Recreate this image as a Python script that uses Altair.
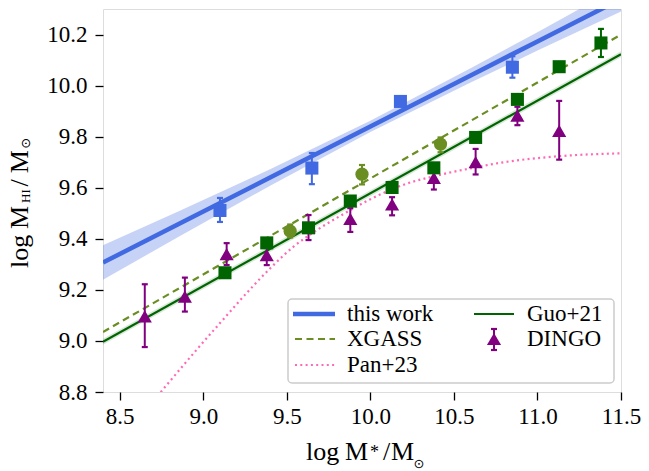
import altair as alt
import pandas as pd

# ---------------- data ----------------
# this work: binned points with error bars
tw_x = [9.10, 9.65, 10.18, 10.85]
tw_y = [9.511, 9.677, 9.938, 10.072]
tw_lo = [9.466, 9.614, 9.922, 10.031]
tw_hi = [9.560, 9.736, 9.956, 10.115]

# this work: best fit line and its confidence band
fit_x = [8.4, 8.85, 9.4, 10.0, 10.6, 11.0, 11.5]
fit_y = [9.307, 9.457, 9.640, 9.840, 10.040, 10.173, 10.339]
fit_lo = [9.240, 9.407, 9.608, 9.818, 10.012, 10.137, 10.290]
fit_hi = [9.375, 9.507, 9.672, 9.862, 10.068, 10.209, 10.390]

# XGASS relation and points
xg_line_x = [8.4, 11.5]
xg_line_y = [9.035, 10.200]
xg_x = [9.52, 9.95, 10.42]
xg_y = [9.430, 9.653, 9.771]
xg_lo = [9.405, 9.613, 9.739]
xg_hi = [9.456, 9.689, 9.797]

# Guo+21 relation and points
guo_line_x = [8.4, 11.5]
guo_line_y = [8.997, 10.123]
guo_band_lo = [8.985, 10.111]
guo_band_hi = [9.009, 10.135]
guo_x = [9.13, 9.38, 9.63, 9.88, 10.13, 10.38, 10.63, 10.88, 11.13, 11.38]
guo_y = [9.267, 9.384, 9.443, 9.548, 9.601, 9.678, 9.797, 9.946, 10.074, 10.167]
guo_lo = [9.252, 9.369, 9.428, 9.533, 9.586, 9.663, 9.782, 9.931, 10.059, 10.112]
guo_hi = [9.282, 9.399, 9.458, 9.563, 9.616, 9.693, 9.812, 9.961, 10.089, 10.222]

# DINGO points
dingo_x = [8.65, 8.89, 9.14, 9.38, 9.63, 9.88, 10.13, 10.38, 10.63, 10.88, 11.13]
dingo_y = [9.096, 9.174, 9.340, 9.336, 9.445, 9.478, 9.535, 9.639, 9.700, 9.882, 9.823]
dingo_lo = [8.976, 9.115, 9.297, 9.297, 9.395, 9.427, 9.492, 9.593, 9.652, 9.845, 9.710]
dingo_hi = [9.222, 9.248, 9.383, 9.380, 9.493, 9.520, 9.563, 9.685, 9.752, 9.917, 9.940]

# Pan+23 curve
pan_x = [8.60, 8.70, 8.94, 9.10, 9.27, 9.42, 9.54, 9.68, 9.86, 10.0, 10.2, 10.4, 10.6, 10.8, 11.1, 11.5]
pan_y = [8.690, 8.765, 8.950, 9.070, 9.195, 9.297, 9.369, 9.434, 9.505, 9.555, 9.612, 9.648, 9.676, 9.700, 9.722, 9.735]

x_ticks = [8.5, 9.0, 9.5, 10.0, 10.5, 11.0, 11.5]
y_ticks = [8.8, 9.0, 9.2, 9.4, 9.6, 9.8, 10.0, 10.2]

# ---------------- style ----------------
BLUE = "#4169E1"
OLIVE = "#6B8E23"
DGREEN = "#006400"
PURPLE = "#800080"
PINK = "#FF69B4"
SERIF = "Liberation Serif"

W, H = 518, 383
PL, PT = 95, 1  # view offset inside the svg

xs = alt.Scale(domain=[8.4, 11.5], nice=False, zero=False)
ys = alt.Scale(domain=[8.8, 10.3], nice=False, zero=False)

xaxis = alt.Axis(values=x_ticks, format=".1f", title=None, domain=False, grid=False,
                 tickColor="black", tickWidth=1.3, tickSize=8, labelFont=SERIF,
                 labelFontSize=23, labelColor="black", labelPadding=5,
                 labelFlush=False, labelOverlap=False)
yaxis = alt.Axis(values=y_ticks, format=".1f", title=None, domain=False, grid=False,
                 tickColor="black", tickWidth=1.3, tickSize=8, labelFont=SERIF,
                 labelFontSize=23, labelColor="black", labelPadding=8,
                 labelOverlap=False)


def X(field="x"):
    return alt.X(f"{field}:Q", scale=xs, axis=xaxis)


def Y(field="y"):
    return alt.Y(f"{field}:Q", scale=ys, axis=yaxis)


def df(**cols):
    return pd.DataFrame(cols)


layers = []

# confidence band of this work
fit_df = df(x=fit_x, y=fit_y, lo=fit_lo, hi=fit_hi)
layers.append(alt.Chart(fit_df).mark_area(color=BLUE, opacity=0.3, clip=True).encode(
    x=X(), y=Y("lo"), y2="hi:Q"))

# Guo halo band
guo_line_df = df(x=guo_line_x, y=guo_line_y, lo=guo_band_lo, hi=guo_band_hi)
layers.append(alt.Chart(guo_line_df).mark_area(color=DGREEN, opacity=0.15, clip=True).encode(
    x=X(), y=Y("lo"), y2="hi:Q"))

# Pan+23 dotted
pan_df = df(x=pan_x, y=pan_y)
layers.append(alt.Chart(pan_df).mark_line(color=PINK, strokeWidth=2.2, strokeDash=[2, 3.3],
                                           interpolate="monotone", clip=True).encode(x=X(), y=Y()))

# XGASS dashed
xg_line_df = df(x=xg_line_x, y=xg_line_y)
layers.append(alt.Chart(xg_line_df).mark_line(color=OLIVE, strokeWidth=2.2, strokeDash=[7, 4.5],
                                               clip=True).encode(x=X(), y=Y()))

# Guo line
layers.append(alt.Chart(guo_line_df).mark_line(color=DGREEN, strokeWidth=2.2, clip=True).encode(
    x=X(), y=Y()))

# this work line
layers.append(alt.Chart(fit_df).mark_line(color=BLUE, strokeWidth=4.5, clip=True).encode(
    x=X(), y=Y()))


def points(xv, yv, lo, hi, color, shape, size, cap=36):
    d = df(x=xv, y=yv, lo=lo, hi=hi)
    out = []
    out.append(alt.Chart(d).mark_rule(color=color, strokeWidth=2).encode(x=X(), y=Y("lo"), y2="hi:Q"))
    for f in ["lo", "hi"]:
        out.append(alt.Chart(d).mark_point(shape="stroke", size=cap, color=color, strokeWidth=2.2,
                                           opacity=1).encode(x=X(), y=Y(f)))
    out.append(alt.Chart(d).mark_point(shape=shape, size=size, color=color, filled=True,
                                       opacity=1, strokeWidth=0).encode(x=X(), y=Y()))
    return out


layers += points(xg_x, xg_y, xg_lo, xg_hi, OLIVE, "circle", 175)
layers += points(tw_x, tw_y, tw_lo, tw_hi, BLUE, "square", 170)
layers += points(dingo_x, dingo_y, dingo_lo, dingo_hi, PURPLE, "triangle-up", 200)
layers += points(guo_x, guo_y, guo_lo, guo_hi, DGREEN, "square", 170)

one = pd.DataFrame({"k": [0]})


def txt(s, x, y, size, angle=0, align="left", baseline="alphabetic", font=SERIF):
    return alt.Chart(one).mark_text(text=s, font=font, fontSize=size, angle=angle, align=align,
                                    baseline=baseline, color="black").encode(
        x=alt.value(x), y=alt.value(y))


# ---------------- legend ----------------
layers.append(alt.Chart(one).mark_rect(fill="white", fillOpacity=0.8, stroke="#cccccc",
                                       strokeWidth=1.5, cornerRadius=4).encode(
    x=alt.value(185), x2=alt.value(511), y=alt.value(290), y2=alt.value(374)))
layers.append(alt.Chart(one).mark_rule(color=BLUE, strokeWidth=4.5).encode(
    x=alt.value(190), x2=alt.value(232), y=alt.value(305)))
layers.append(alt.Chart(one).mark_rule(color=OLIVE, strokeWidth=2.2, strokeDash=[7, 4.5]).encode(
    x=alt.value(192), x2=alt.value(232), y=alt.value(330)))
layers.append(alt.Chart(one).mark_rule(color=PINK, strokeWidth=2.2, strokeDash=[2, 3.3]).encode(
    x=alt.value(192), x2=alt.value(232), y=alt.value(356)))
layers.append(alt.Chart(one).mark_rule(color=DGREEN, strokeWidth=2.2).encode(
    x=alt.value(371), x2=alt.value(411), y=alt.value(305)))
layers.append(alt.Chart(one).mark_rule(color=PURPLE, strokeWidth=2).encode(
    x=alt.value(391), y=alt.value(320), y2=alt.value(341)))
for yy in [320, 341]:
    layers.append(alt.Chart(one).mark_point(shape="stroke", size=36, color=PURPLE, strokeWidth=2.2,
                                            opacity=1).encode(x=alt.value(391), y=alt.value(yy)))
layers.append(alt.Chart(one).mark_point(shape="triangle-up", size=200, color=PURPLE, filled=True,
                                        opacity=1, strokeWidth=0).encode(
    x=alt.value(391), y=alt.value(330)))
for s, lx, ly in [("this work", 244, 305), ("XGASS", 244, 330), ("Pan+23", 244, 356),
                  ("Guo+21", 424, 305), ("DINGO", 424, 330)]:
    layers.append(txt(s, lx, ly, 23, baseline="middle"))

# ---------------- axis titles ----------------
layers.append(txt("log", 203, 451, 26))
layers.append(txt("M", 242, 451, 26))
layers.append(txt("*", 267, 449, 18))
layers.append(txt("/", 280, 451, 26))
layers.append(txt("M", 288, 451, 26))
layers.append(txt("\u2299", 316, 455, 13, align="center", baseline="middle", font="DejaVu Sans"))

layers.append(txt("log", -75, 259, 26, angle=270))
layers.append(txt("M", -75, 220, 26, angle=270))
layers.append(txt("HI", -73, 194, 13, angle=270))
layers.append(txt("/", -75, 177.5, 26, angle=270))
layers.append(txt("M", -75, 164.3, 26, angle=270))
layers.append(txt("\u2299", -77, 134.3, 13, angle=270, align="center", baseline="middle",
                  font="DejaVu Sans"))

chart = alt.layer(*layers).properties(
    width=W, height=H,
    autosize=alt.AutoSizeParams(type="none"),
    padding={"left": PL, "top": PT, "right": 20, "bottom": 79},
).configure_view(stroke="black", strokeWidth=1.5).configure(
    background="white", font=SERIF
).configure_axis(labelFont=SERIF)

chart.save("out.html", embed_options={"renderer": "svg", "actions": False})
